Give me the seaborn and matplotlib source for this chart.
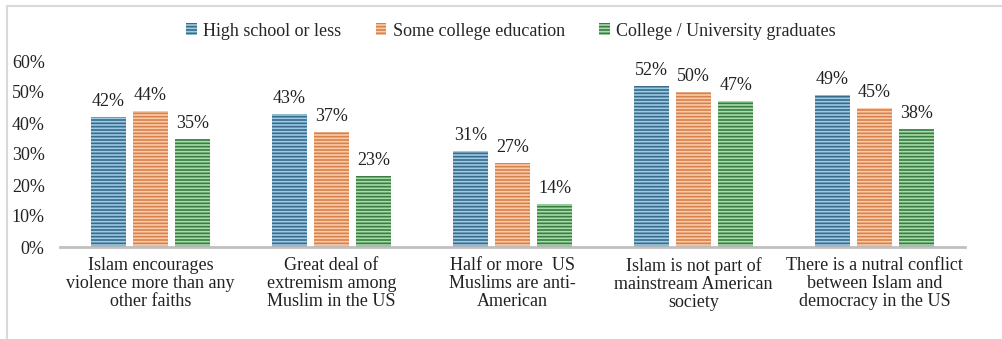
import matplotlib
matplotlib.use("Agg")
import matplotlib.pyplot as plt
from matplotlib.lines import Line2D
import seaborn as sns
import pandas as pd

categories = [
    "Islam encourages\nviolence more than any\nother faiths",
    "Great deal of\nextremism among\nMuslim in the US",
    "Half or more  US\nMuslims are anti-\nAmerican",
    "Islam is not part of\nmainstream American\nsociety",
    "There is a nutral conflict\nbetween Islam and\ndemocracy in the US",
]
series = ["High school or less", "Some college education", "College / University graduates"]
high_school = [42, 43, 31, 52, 49]
some_college = [44, 37, 27, 50, 45]
graduates = [35, 23, 14, 47, 38]
yticks = [0, 10, 20, 30, 40, 50, 60]

rows = []
for s, vals in zip(series, [high_school, some_college, graduates]):
    for c, v in zip(categories, vals):
        rows.append({"cat": c, "group": s, "val": v})
df = pd.DataFrame(rows)

sns.set_theme(style="white")
plt.rcParams["font.family"] = ["Liberation Serif", "DejaVu Serif"]
plt.rcParams["hatch.linewidth"] = 1.2

FS = 13
base = ["#2C6D96", "#EE7B35", "#2D873A"]
light = ["#9CCBE6", "#FBCBA8", "#A8DCA8"]

fig = plt.figure(figsize=(10.02, 3.39), dpi=100)
ax = fig.add_axes([60 / 1002, 1 - 247 / 339, 905 / 1002, (247 - 61) / 339])

sns.barplot(data=df, x="cat", y="val", hue="group", hue_order=series,
            order=categories, palette=base, width=0.7, gap=0.17,
            ax=ax, legend=False)

for i, cont in enumerate(ax.containers):
    for p in cont:
        p.set_edgecolor(light[i])
        p.set_linewidth(0)
        p.set_hatch("-----")
    ax.bar_label(cont, labels=[f"{int(v)}%" for v in cont.datavalues],
                 padding=5, fontsize=FS, color="#222222")

ax.set_ylim(0, 60)
ax.set_xlim(-0.5, 4.5)
ax.set_yticks(yticks)
ax.set_yticklabels([f"{t}%" for t in yticks], fontsize=FS, color="#222222")
ax.tick_params(axis="y", length=0, pad=11)
ax.tick_params(axis="x", length=0, pad=7, labelsize=FS, labelcolor="#222222")
ax.set_xlabel("")
ax.set_ylabel("")
for s in ["left", "right", "top"]:
    ax.spines[s].set_visible(False)
ax.spines["bottom"].set_color("#C0C0C0")
ax.spines["bottom"].set_linewidth(2)
for lab in ax.get_xticklabels():
    lab.set_linespacing(1.1)

handles = [ax.containers[i][0] for i in range(3)]
fig.legend(handles, series, loc="center", bbox_to_anchor=(511 / 1002, 1 - 31 / 339),
           ncol=3, frameon=False, fontsize=FS, handlelength=0.6, handleheight=0.6,
           handletextpad=0.35, columnspacing=1.9)

fig.add_artist(Line2D([7 / 1002, 7 / 1002], [0, 1 - 6 / 339], transform=fig.transFigure,
                      color="#D9D9D9", lw=1.5))
fig.add_artist(Line2D([7 / 1002, 1], [1 - 6 / 339, 1 - 6 / 339], transform=fig.transFigure,
                      color="#D9D9D9", lw=1.5))

fig.savefig("out.png", dpi=100)
